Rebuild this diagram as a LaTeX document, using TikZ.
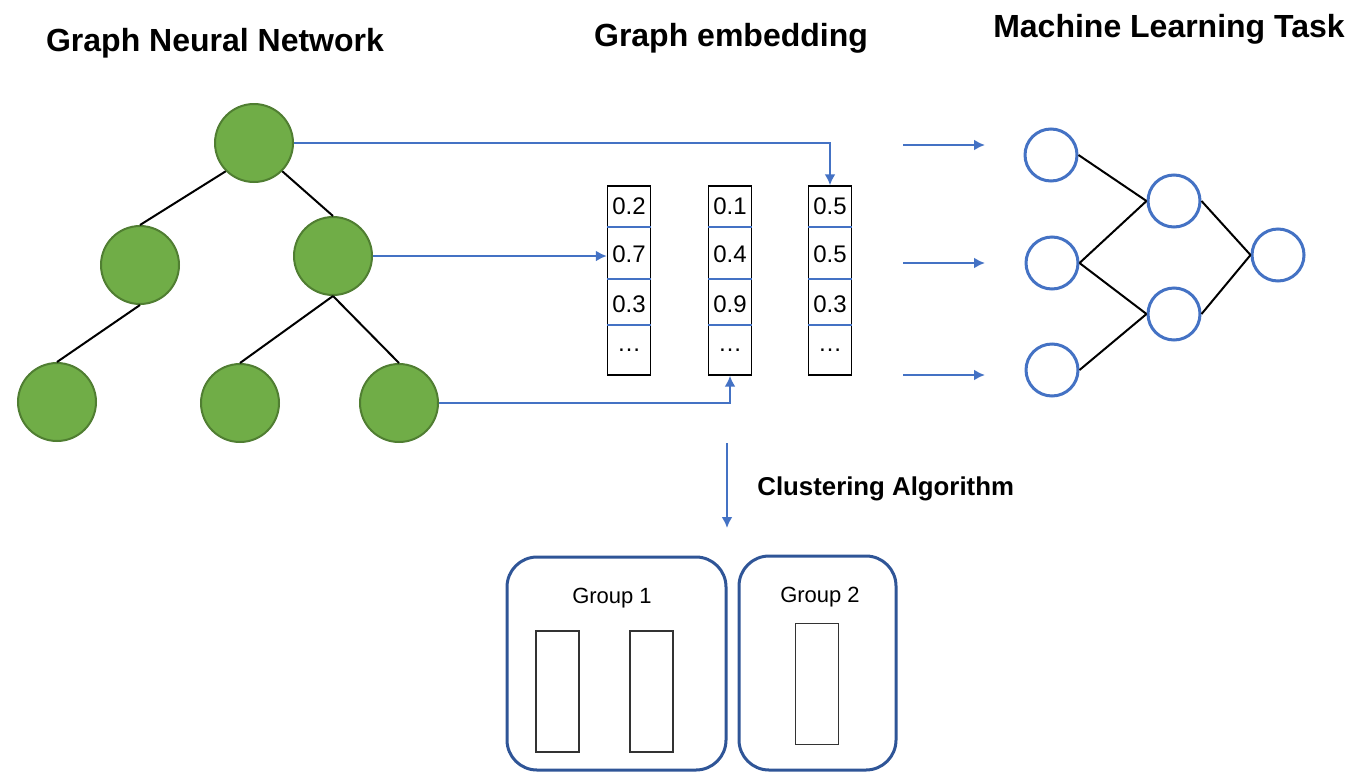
\documentclass[tikz,border=0pt]{standalone}
\usepackage{fontspec}
\setmainfont{Liberation Sans}
\usepackage{xcolor}
\usepackage{tikz}
\usetikzlibrary{arrows.meta, positioning, calc}
\definecolor{treegreen}{HTML}{70AD47}
\definecolor{treeborder}{HTML}{507E32}
\definecolor{nnblue}{HTML}{4472C4}
\definecolor{groupblue}{HTML}{2F5597}
\tikzstyle{gnode} = [circle, draw=treeborder, fill=treegreen, minimum size=39pt, inner sep=0pt, line width=1pt]
\tikzstyle{nnode} = [circle, draw=nnblue, fill=white, minimum size=26pt, inner sep=0pt, line width=1.5pt]
\tikzstyle{edge} = [black, line width=1pt]
\tikzstyle{arrow} = [-{Latex[length=5.5pt, width=5.5pt]}, nnblue, line width=1.1pt]
\tikzstyle{vecbox} = [rectangle, draw=black, minimum width=21.5pt, minimum height=94.5pt, inner sep=0pt, line width=0.7pt]
\tikzstyle{cell} = [inner sep=0pt, font=\fontsize{12}{14}\selectfont]
\tikzstyle{groupbox} = [rectangle, draw=groupblue, rounded corners=15pt, line width=1.5pt, inner sep=0pt]
\tikzstyle{member} = [rectangle, draw=black!80, minimum width=21.5pt, minimum height=60.5pt, inner sep=0pt, line width=0.7pt]
\tikzstyle{heading} = [anchor=base, font=\fontsize{16}{18}\selectfont\bfseries]

\begin{document}
\begin{tikzpicture}[x=0.5pt, y=-0.5pt]
    \useasboundingbox (0,0) rectangle (1358,771);

    % Titles
    \node[heading] (tgnn) at (215, 51) {Graph Neural Network};
    \node[heading] (temb) at (731, 46) {Graph embedding};
    \node[heading] (tml) at (1169, 37) {Machine Learning Task};

    % Graph neural network (tree)
    \node[gnode] (root) at (254, 143) {};
    \node[gnode] (ml) at (140, 265) {};
    \node[gnode] (mr) at (333, 256) {};
    \node[gnode] (bl) at (57, 402) {};
    \node[gnode] (bm) at (240, 403) {};
    \node[gnode] (br) at (399, 403) {};
    \draw[edge] (root.south west) -- (ml.north);
    \draw[edge] (root.south east) -- (mr.north);
    \draw[edge] (ml.south) -- (bl.north);
    \draw[edge] (mr.south) -- (bm.north);
    \draw[edge] (mr.south) -- (br.north);

    % Graph embedding vectors
    \foreach \name/\x/\a/\b/\c in {v1/629/0.2/0.7/0.3, v2/730/0.1/0.4/0.9, v3/830/0.5/0.5/0.3} {
        \node[vecbox] (\name) at (\x, 280.5) {};
        \draw[nnblue, line width=0.6pt] (\name.west |- 0,227) -- (\name.east |- 0,227);
        \draw[nnblue, line width=0.6pt] (\name.west |- 0,279) -- (\name.east |- 0,279);
        \draw[nnblue, line width=0.6pt] (\name.west |- 0,325) -- (\name.east |- 0,325);
        \node[cell] (\name a) at (\x, 206.5) {\a};
        \node[cell] (\name b) at (\x, 254) {\b};
        \node[cell] (\name c) at (\x, 304.5) {\c};
        \node[cell] (\name d) at (\x, 350) {\dots};
    }

    % GNN to embedding
    \draw[arrow] (root.east) -| (v3.north);
    \draw[arrow] (mr.east) -- (mr.east -| v1.west);
    \draw[arrow] (br.east) -| (v2.south);

    % Machine learning task
    \node[nnode] (in1) at (1051, 155) {};
    \node[nnode] (in2) at (1052, 263) {};
    \node[nnode] (in3) at (1052, 370) {};
    \node[nnode] (h1) at (1174, 201) {};
    \node[nnode] (h2) at (1174, 314) {};
    \node[nnode] (out) at (1278, 255) {};
    \draw[edge] (in1.east) -- (h1.west);
    \draw[edge] (in2.east) -- (h1.west);
    \draw[edge] (in2.east) -- (h2.west);
    \draw[edge] (in3.east) -- (h2.west);
    \draw[edge] (h1.east) -- (out.west);
    \draw[edge] (h2.east) -- (out.west);

    % Input arrows
    \foreach \y/\i in {145/1, 263/2, 375/3} {
        \coordinate (s\i) at (903, \y);
        \coordinate (e\i) at (985, \y);
        \draw[arrow] (s\i) -- (e\i);
    }

    % Clustering
    \coordinate (cstart) at (727, 443);
    \coordinate (cend) at (727, 528);
    \draw[arrow] (cstart) -- (cend);
    \node[anchor=base west, inner sep=0pt, font=\fontsize{12.9}{15}\selectfont\bfseries] (clabel) at (757, 495) {Clustering Algorithm};

    % Groups
    \node[groupbox, minimum width=109.5pt, minimum height=106.5pt] (g1) at (616.5, 663.5) {};
    \node[groupbox, minimum width=78.5pt, minimum height=107pt] (g2) at (817.5, 663) {};
    \node[anchor=base, font=\fontsize{11}{13}\selectfont] (g1label) at (612, 603) {Group 1};
    \node[anchor=base, font=\fontsize{11}{13}\selectfont] (g2label) at (820, 602) {Group 2};
    \node[member] (m1) at (557.5, 691.5) {};
    \node[member] (m2) at (651.5, 691.5) {};
    \node[member] (m3) at (817, 684) {};
\end{tikzpicture}
\end{document}
